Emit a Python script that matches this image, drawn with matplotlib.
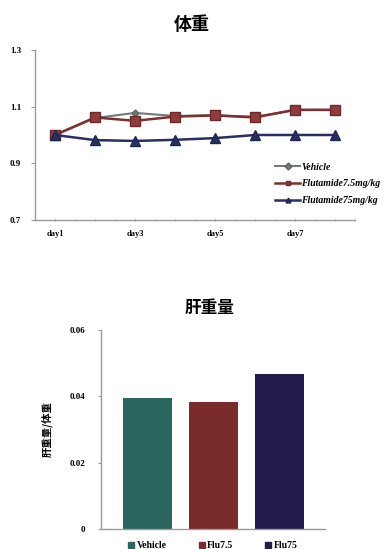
import matplotlib
matplotlib.use("Agg")
import matplotlib.pyplot as plt
from matplotlib.patches import Patch

# Body weight (relative) over days
days = ["day1", "day2", "day3", "day4", "day5", "day6", "day7", "day8"]
vehicle = [1.00, 1.060, 1.078, 1.067, 1.070, 1.064, 1.088, 1.088]
flu_low = [1.00, 1.062, 1.050, 1.065, 1.069, 1.062, 1.089, 1.089]
flu_high = [1.00, 0.982, 0.979, 0.983, 0.989, 1.000, 1.000, 1.000]
series_names = ["Vehicle", "Flutamide7.5mg/kg", "Flutamide75mg/kg"]
shown_day_labels = ["day1", "day3", "day5", "day7"]
y_ticks_top = [0.7, 0.9, 1.1, 1.3]

# Liver weight / body weight
groups = ["Vehicle", "Flu7.5", "Flu75"]
liver_ratio = [0.0394, 0.0384, 0.0467]
y_ticks_bottom = [0, 0.02, 0.04, 0.06]
y_tick_labels_bottom = ["0", "0.02", "0.04", "0.06"]

serif = ["Liberation Serif", "DejaVu Serif"]
cjk = ["Noto Sans CJK SC", "DejaVu Sans"]
spine_col = "#9a9a9a"
W, H = 385, 549

fig = plt.figure(figsize=(W / 100, H / 100), dpi=100)
fig.patch.set_facecolor("white")


def rect(l, t, r, b):
    return [l / W, 1 - b / H, (r - l) / W, (b - t) / H]


# ---- top: line chart ----
ax = fig.add_axes(rect(35, 50, 355, 220))
x = list(range(len(days)))
ax.plot(x, vehicle, color="#6f7d72", lw=1.5, marker="D", ms=3.5,
        mfc="#6f7d72", mec="#5a665c", label=series_names[0], zorder=3)
ax.plot(x, flu_low, color="#7e2f30", lw=1.8, marker="s", ms=7,
        mfc="#8e3c3c", mec="#6e2a2a", label=series_names[1], zorder=4)
ax.plot(x, flu_high, color="#283062", lw=1.8, marker="^", ms=6.5,
        mfc="#283062", mec="#1f2550", label=series_names[2], zorder=5)

ax.set_xlim(-0.5, len(days) - 0.5)
ax.set_ylim(0.7, 1.3)
ax.set_yticks(y_ticks_top)
ax.set_yticklabels([f"{v:.1f}" for v in y_ticks_top], fontfamily=serif,
                   fontweight="bold", fontsize=6.5)
ax.set_xticks([days.index(d) for d in shown_day_labels])
ax.set_xticklabels(shown_day_labels, fontfamily=serif, fontweight="bold",
                   fontsize=6)
ax.set_xticks([i * 0.5 - 0.5 for i in range(2 * len(days) + 1)], minor=True)
ax.tick_params(axis="x", which="both", length=2, direction="inout",
               color=spine_col, pad=6)
ax.tick_params(axis="y", length=3, color=spine_col, direction="out", pad=7)
for s in ["top", "right"]:
    ax.spines[s].set_visible(False)
for s in ["left", "bottom"]:
    ax.spines[s].set_color(spine_col)
    ax.spines[s].set_linewidth(1.0)

leg = ax.legend(loc="upper left", bbox_to_anchor=(236 / 320, 0.36),
                frameon=False, handlelength=2.6, handletextpad=0.1,
                labelspacing=0.8, borderaxespad=0,
                prop={"family": serif, "weight": "bold", "style": "italic",
                      "size": 7})
for h in leg.legend_handles:
    h.set_markersize(3.5)

fig.text(192 / W, 1 - 25 / H, "体重", ha="center", va="center",
         fontfamily=cjk, fontweight="bold", fontsize=13)

# ---- bottom: bar chart ----
bx = fig.add_axes(rect(101, 330, 325, 529))
bar_colors = ["#2b6660", "#7a2b2b", "#231c4b"]
xb = list(range(len(groups)))
bx.bar(xb, liver_ratio, width=0.74, color=bar_colors)
bx.set_xlim(-0.705, 2.69)
bx.set_ylim(0, 0.06)
bx.set_yticks(y_ticks_bottom)
bx.set_yticklabels(y_tick_labels_bottom, fontfamily=serif, fontweight="bold",
                   fontsize=6.5)
bx.set_xticks([])
bx.tick_params(axis="y", length=2.5, color=spine_col, pad=9)
for s in ["top", "right"]:
    bx.spines[s].set_visible(False)
for s in ["left", "bottom"]:
    bx.spines[s].set_color(spine_col)
    bx.spines[s].set_linewidth(1.0)

bx.set_ylabel("肝重量/体重", fontfamily=cjk, fontweight="bold", fontsize=7.5,
              labelpad=12)

handles = [Patch(facecolor=c, edgecolor=c) for c in bar_colors]
bx.legend(handles, groups, loc="center", bbox_to_anchor=(0.5, -17 / 199),
          ncol=3, frameon=False, handlelength=0.6, handleheight=0.6,
          handletextpad=0.25, columnspacing=3.3, borderaxespad=0,
          prop={"family": serif, "weight": "bold", "size": 7})

fig.text(210 / W, 1 - 308 / H, "肝重量", ha="center", va="center",
         fontfamily=cjk, fontweight="bold", fontsize=12)

fig.savefig("out.png", dpi=100, facecolor="white")
